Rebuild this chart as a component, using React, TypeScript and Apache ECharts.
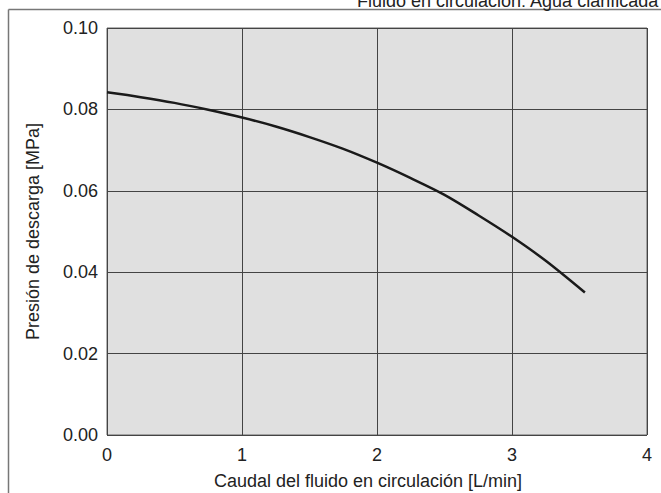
import React, { useEffect, useRef } from "react";
import * as echarts from "echarts";

const flowRates = [0, 0.25, 0.5, 0.75, 1, 1.25, 1.5, 1.75, 2, 2.25, 2.5, 2.75, 3, 3.25, 3.54];
const pressures = [0.0842, 0.083, 0.0816, 0.0799, 0.078, 0.0758, 0.0732, 0.0703, 0.0669, 0.0631, 0.059, 0.054, 0.0487, 0.0428, 0.035];
const title = "Fluido en circulación: Agua clarificada";
const xName = "Caudal del fluido en circulación [L/min]";
const yName = "Presión de descarga [MPa]";

const FONT = "'Liberation Sans', Arial, Helvetica, sans-serif";

export default function App() {
  const ref = useRef<HTMLDivElement>(null);
  useEffect(() => {
    if (!ref.current) return;
    const chart = echarts.init(ref.current, null, { renderer: "svg" });
    chart.setOption({
      animation: false,
      grid: {
        left: 107,
        top: 28,
        width: 540,
        height: 407,
        containLabel: false,
        outerBoundsMode: "none",
        show: true,
        backgroundColor: "#e0e0e0",
        borderColor: "#666",
        borderWidth: 1,
      },
      graphic: [
        {
          type: "line",
          shape: { x1: 8.5, y1: 9.5, x2: 661, y2: 9.5 },
          style: { stroke: "#777", lineWidth: 1.5 },
        },
        {
          type: "line",
          shape: { x1: 8.5, y1: 9.5, x2: 8.5, y2: 493 },
          style: { stroke: "#777", lineWidth: 1.5 },
        },
        {
          type: "text",
          x: 357,
          y: 10,
          style: {
            text: title,
            fill: "#222",
            font: `18px ${FONT}`,
            verticalAlign: "bottom",
            align: "left",
          },
        },
      ],
      xAxis: {
        type: "value",
        min: 0,
        max: 4,
        interval: 1,
        name: xName,
        nameLocation: "middle",
        nameGap: 37,
        nameTextStyle: { color: "#222", fontSize: 18, fontFamily: FONT, padding: [0, 18, 0, 0] },
        axisLine: { show: false },
        axisTick: { show: false },
        axisLabel: { color: "#222", fontSize: 18, fontFamily: FONT, margin: 11 },
        splitLine: { show: true, lineStyle: { color: "#444", width: 1 } },
      },
      yAxis: {
        type: "value",
        min: 0,
        max: 0.1,
        interval: 0.02,
        name: yName,
        nameLocation: "middle",
        nameGap: 65,
        nameTextStyle: { color: "#222", fontSize: 18, fontFamily: FONT },
        axisLine: { show: false },
        axisTick: { show: false },
        axisLabel: {
          color: "#222",
          fontSize: 18,
          fontFamily: FONT,
          margin: 9,
          padding: [10, 0, 0, 0],
          formatter: (v: number) => v.toFixed(2),
        },
        splitLine: { show: true, lineStyle: { color: "#444", width: 1 } },
      },
      series: [
        {
          type: "line",
          data: flowRates.map((x, i) => [x, pressures[i]]),
          smooth: 0.3,
          showSymbol: false,
          lineStyle: { color: "#1a1a1a", width: 2.5 },
        },
      ],
    });
    return () => chart.dispose();
  }, []);
  return (
    <div
      ref={ref}
      style={{ position: "absolute", left: 0, top: 0, width: 661, height: 493, background: "#fff" }}
    />
  );
}
